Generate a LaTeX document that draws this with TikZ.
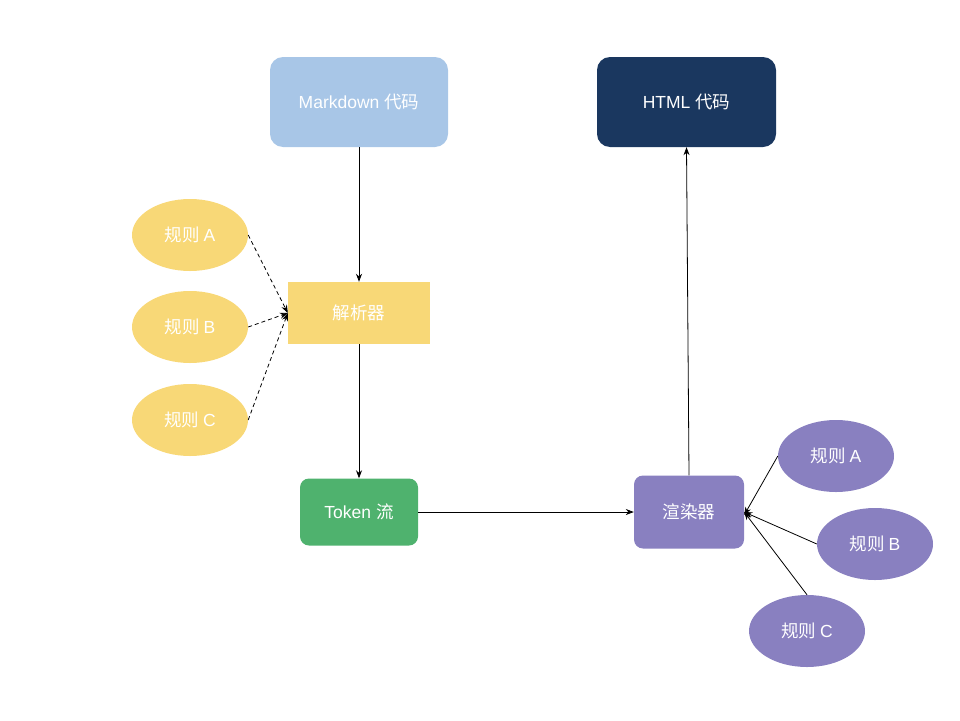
\documentclass[tikz,border=0pt]{standalone}
\usepackage{fontspec}
\setmainfont{Liberation Sans}
\newfontfamily\cjk{Noto Sans CJK SC}
\usetikzlibrary{shapes.geometric,arrows.meta}
\definecolor{mdblue}{HTML}{A8C6E7}
\definecolor{navy}{HTML}{1A375F}
\definecolor{ylw}{HTML}{F8D877}
\definecolor{grn}{HTML}{4FB26E}
\definecolor{purp}{HTML}{8980C0}
\newcommand{\rulelabel}[1]{{\cjk 规则}\hspace{4pt}#1}
\tikzset{
  box/.style={rounded corners=13pt, text=white, font=\fontsize{17.5}{20}\selectfont, inner sep=0pt},
  rule/.style={ellipse, text=white, font=\fontsize{17.5}{20}\selectfont, minimum width=116pt, minimum height=72pt, inner sep=0pt},
  arr/.style={-{Stealth[length=8pt,width=6pt]}, line width=0.8pt, black},
  darr/.style={arr, dashed, dash pattern=on 4pt off 3pt}
}
\begin{document}
\begin{tikzpicture}[x=1pt,y=-1pt]
\useasboundingbox (0,0) rectangle (960,720);
\node[box, fill=mdblue, minimum width=178pt, minimum height=90pt] (md) at (359,102) {Markdown {\cjk 代码}};
\node[box, fill=navy, minimum width=179pt, minimum height=90pt] (html) at (686.5,102) {HTML {\cjk 代码}};
\node[box, rounded corners=0pt, fill=ylw, minimum width=142pt, minimum height=62pt] (parser) at (359,313) {\cjk 解析器};
\node[box, rounded corners=9pt, fill=grn, minimum width=118pt, minimum height=67pt] (token) at (359,512) {Token {\cjk 流}};
\node[box, rounded corners=9pt, fill=purp, minimum width=110pt, minimum height=73pt] (render) at (689,512) {\cjk 渲染器};
\node[rule, fill=ylw] (la) at (190,235) {\rulelabel{A}};
\node[rule, fill=ylw] (lb) at (190,327) {\rulelabel{B}};
\node[rule, fill=ylw] (lc) at (190,420) {\rulelabel{C}};
\node[rule, fill=purp] (ra) at (836,456) {\rulelabel{A}};
\node[rule, fill=purp] (rb) at (875,544) {\rulelabel{B}};
\node[rule, fill=purp] (rc) at (807,631) {\rulelabel{C}};
\draw[arr] (md.south) -- (parser.north);
\draw[arr] (parser.south) -- (token.north);
\draw[arr] (token.east) -- (render.west);
\draw[arr] (render.north) -- (html.south);
\draw[darr] (la.east) -- (parser.west);
\draw[darr] (lb.east) -- (parser.west);
\draw[darr] (lc.east) -- (parser.west);
\draw[arr] (ra.west) -- ([yshift=-3pt]render.east);
\draw[arr] (rb.west) -- (render.east);
\draw[arr] (rc.north) -- (render.east);
\end{tikzpicture}
\end{document}
